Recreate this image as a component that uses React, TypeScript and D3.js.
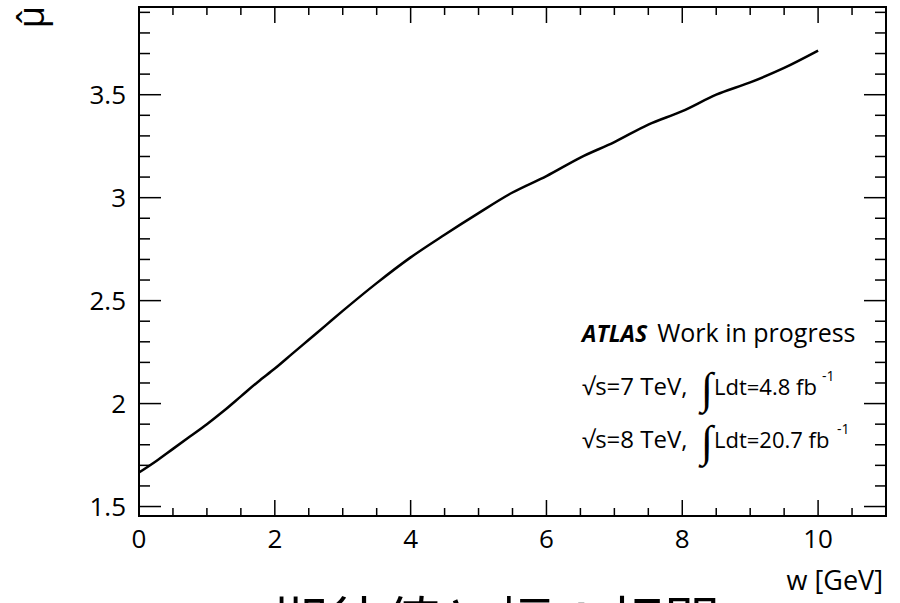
import React from "react";
import * as d3 from "d3";

const wValues = [0, 0.25, 0.5, 0.75, 1.0, 1.25, 1.5, 1.75, 2.0, 2.25, 2.5, 2.75, 3.0, 3.5, 4.0, 4.5, 5.0, 5.5, 6.0, 6.5, 7.0, 7.5, 8.0, 8.5, 9.0, 9.5, 10.0];
const muValues = [1.665, 1.72, 1.78, 1.84, 1.9, 1.965, 2.035, 2.105, 2.17, 2.24, 2.31, 2.38, 2.45, 2.585, 2.71, 2.82, 2.925, 3.025, 3.105, 3.195, 3.27, 3.355, 3.42, 3.5, 3.56, 3.63, 3.714];
const xTicks = [0, 2, 4, 6, 8, 10];
const yTicks = [1.5, 2, 2.5, 3, 3.5];
const xDomain = [0, 11];
const yDomain = [1.454, 3.926];

const W = 900, H = 603;
const M = { left: 139, top: 7, right: 886, bottom: 516 };
const FONT = "'Open Sans', Lato, sans-serif";

export default function App() {
  const x = d3.scaleLinear().domain(xDomain).range([M.left, M.right]);
  const y = d3.scaleLinear().domain(yDomain).range([M.bottom, M.top]);
  const pts: [number, number][] = wValues.map((w, i) => [w, muValues[i]]);
  const line = d3.line<[number, number]>().x(d => x(d[0])).y(d => y(d[1])).curve(d3.curveMonotoneX);

  const xMinor = d3.range(0, 11.001, 0.5).filter(v => Math.abs(v % 2) > 1e-6);
  const yMinor = d3.range(1.5, 3.95, 0.1).map(v => +v.toFixed(2)).filter(v => !yTicks.includes(v) && v <= yDomain[1]);

  return (
    <svg width={W} height={H} style={{ position: "absolute", left: 0, top: 0, overflow: "hidden", background: "#fff" }} fontFamily={FONT}>
      <rect x={0} y={0} width={W} height={H} fill="#fff" />
      <g stroke="#000" strokeWidth={1.5}>
        {xTicks.map(v => (
          <g key={"xt" + v}>
            <line x1={x(v)} x2={x(v)} y1={M.bottom} y2={M.bottom - 16} />
            <line x1={x(v)} x2={x(v)} y1={M.top} y2={M.top + 16} />
          </g>
        ))}
        {xMinor.map(v => (
          <g key={"xm" + v}>
            <line x1={x(v)} x2={x(v)} y1={M.bottom} y2={M.bottom - 8} />
            <line x1={x(v)} x2={x(v)} y1={M.top} y2={M.top + 8} />
          </g>
        ))}
        {yTicks.map(v => (
          <g key={"yt" + v}>
            <line x1={M.left} x2={M.left + 22} y1={y(v)} y2={y(v)} />
            <line x1={M.right} x2={M.right - 22} y1={y(v)} y2={y(v)} />
          </g>
        ))}
        {yMinor.map(v => (
          <g key={"ym" + v}>
            <line x1={M.left} x2={M.left + 11} y1={y(v)} y2={y(v)} />
            <line x1={M.right} x2={M.right - 11} y1={y(v)} y2={y(v)} />
          </g>
        ))}
      </g>
      <rect x={M.left} y={M.top} width={M.right - M.left} height={M.bottom - M.top} fill="none" stroke="#000" strokeWidth={2} />
      <path d={line(pts) || ""} fill="none" stroke="#000" strokeWidth={2.5} />
      <g fontSize={26} fill="#000">
        {xTicks.map(v => (
          <text key={"xl" + v} x={x(v)} y={M.bottom + 32} textAnchor="middle">{v}</text>
        ))}
        {yTicks.map(v => (
          <text key={"yl" + v} x={M.left - 13} y={y(v) + 9} textAnchor="end">{v}</text>
        ))}
      </g>
      <text x={883} y={590} textAnchor="end" fontSize={27}>w [GeV]</text>
      <text transform="translate(44,6) rotate(-90)" textAnchor="end" fontSize={36}>μ̂</text>
      <g fontSize={22} fill="#000">
        <text x={582} y={342}>
          <tspan fontWeight="bold" fontStyle="italic" fontSize={23}>ATLAS</tspan>
          <tspan dx={10} fontSize={25}>Work in progress</tspan>
        </text>
        <text x={582} y={395} fontSize={24}>√s=7 TeV,</text>
        <text x={701} y={403} fontSize={44} fontWeight={300} fontFamily="'DejaVu Sans'">∫</text>
        <text x={714} y={395}>Ldt=4.8 fb</text>
        <text x={822} y={381} fontSize={14}>-1</text>
        <text x={582} y={448} fontSize={24}>√s=8 TeV,</text>
        <text x={701} y={456} fontSize={44} fontWeight={300} fontFamily="'DejaVu Sans'">∫</text>
        <text x={714} y={448}>Ldt=20.7 fb</text>
        <text x={837} y={434} fontSize={14}>-1</text>
      </g>
      <text x={496} y={643} textAnchor="middle" fontSize={56} fontFamily="'Noto Sans CJK JP', sans-serif">期待値と幅の相関</text>
    </svg>
  );
}
